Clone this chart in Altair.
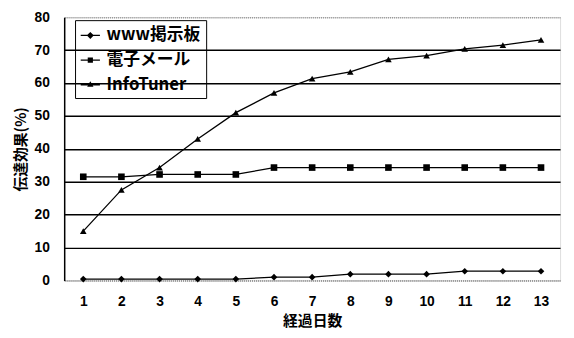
import altair as alt
import pandas as pd

days = list(range(1, 14))
series_names = ["www掲示板", "電子メール", "InfoTuner"]
www_vals = [0.4, 0.4, 0.4, 0.4, 0.4, 1.0, 1.0, 1.9, 1.9, 1.9, 2.8, 2.8, 2.8]
mail_vals = [31.5, 31.5, 32.2, 32.2, 32.2, 34.3, 34.3, 34.3, 34.3, 34.3, 34.3, 34.3, 34.3]
info_vals = [15, 27.5, 34.3, 43, 51, 57, 61.3, 63.4, 67.2, 68.3, 70.4, 71.5, 73.1]
y_ticks = [0, 10, 20, 30, 40, 50, 60, 70, 80]

rows = []
for name, vals in zip(series_names, [www_vals, mail_vals, info_vals]):
    for d, v in zip(days, vals):
        rows.append({"day": d, "value": v, "series": name})
df = pd.DataFrame(rows)

FONT = "Noto Sans CJK JP"
NUMFONT = "Liberation Sans"

x = alt.X("day:O", scale=alt.Scale(padding=0.5),
          axis=alt.Axis(title="経過日数", labelAngle=0, ticks=False,
                        domainColor="#888", domainDash=[1, 1], domainWidth=1,
                        labelPadding=14, labelFontSize=14, labelFontWeight="bold",
                        labelFont=NUMFONT, titleFont=FONT, titleFontSize=15,
                        titleFontWeight="bold", titlePadding=6, labelColor="black",
                        titleColor="black"))
y = alt.Y("value:Q", scale=alt.Scale(domain=[0, 80], nice=False),
          axis=alt.Axis(title="伝達効果(%)", values=y_ticks, ticks=False,
                        domainColor="black", domainWidth=1.5,
                        gridColor={"condition": {"test": "datum.value == 0 || datum.value == 80", "value": "#999"}, "value": "black"},
                        gridDash={"condition": {"test": "datum.value == 0 || datum.value == 80", "value": [1, 1]}, "value": []},
                        gridWidth=1.5, labelPadding=15, labelFontSize=14,
                        labelFontWeight="bold", labelFont=NUMFONT, titleFont=FONT,
                        titleFontSize=15, titleFontWeight="bold", titlePadding=6,
                        labelColor="black", titleColor="black"))

lines = alt.Chart(df).mark_line(color="black", strokeWidth=1.3).encode(
    x=x, y=y, detail="series:N")

points = alt.Chart(df).mark_point(filled=True, color="black", opacity=1, size=45).encode(
    x=x, y=y,
    shape=alt.Shape("series:N", sort=series_names,
                    scale=alt.Scale(domain=series_names, range=["diamond", "square", "triangle-up"]),
                    legend=None))

# legend glyphs: a thin filled bar (the line) plus the marker
legend_paths = [
    "M-1,-0.07H-0.3L0,-0.36L0.3,-0.07H1V0.07H0.3L0,0.36L-0.3,0.07H-1Z",
    "M-1,-0.07H-0.27V-0.27H0.27V-0.07H1V0.07H0.27V0.27H-0.27V0.07H-1Z",
    "M-1,-0.07H-0.17L0,-0.36L0.17,-0.07H1V0.07H0.25L0.33,0.22H-0.33L-0.25,0.07H-1Z",
]
legend_layer = alt.Chart(df).mark_point(filled=True, color="black", opacity=0).encode(
    x=x, y=y,
    shape=alt.Shape("series:N", sort=series_names,
                    scale=alt.Scale(domain=series_names, range=legend_paths),
                    legend=alt.Legend(title=None, orient="none", legendX=11, legendY=3,
                                      strokeColor="black", padding=5,
                                      symbolSize=380, symbolFillColor="black",
                                      symbolOpacity=1, rowPadding=6, labelOffset=6,
                                      labelFont=FONT, labelFontSize=17,
                                      labelColor="black", labelFontWeight="bold")))

chart = alt.layer(lines, points, legend_layer).resolve_scale(shape="independent").properties(
    width=503, height=267,
    autosize=alt.AutoSizeParams(type="none"),
    padding={"left": 57, "top": 7, "right": 6, "bottom": 50},
).configure_view(stroke="#999", strokeDash=[1, 1], strokeWidth=1).configure(background="white")

chart.save("out.html", embed_options={"renderer": "svg", "actions": False})
